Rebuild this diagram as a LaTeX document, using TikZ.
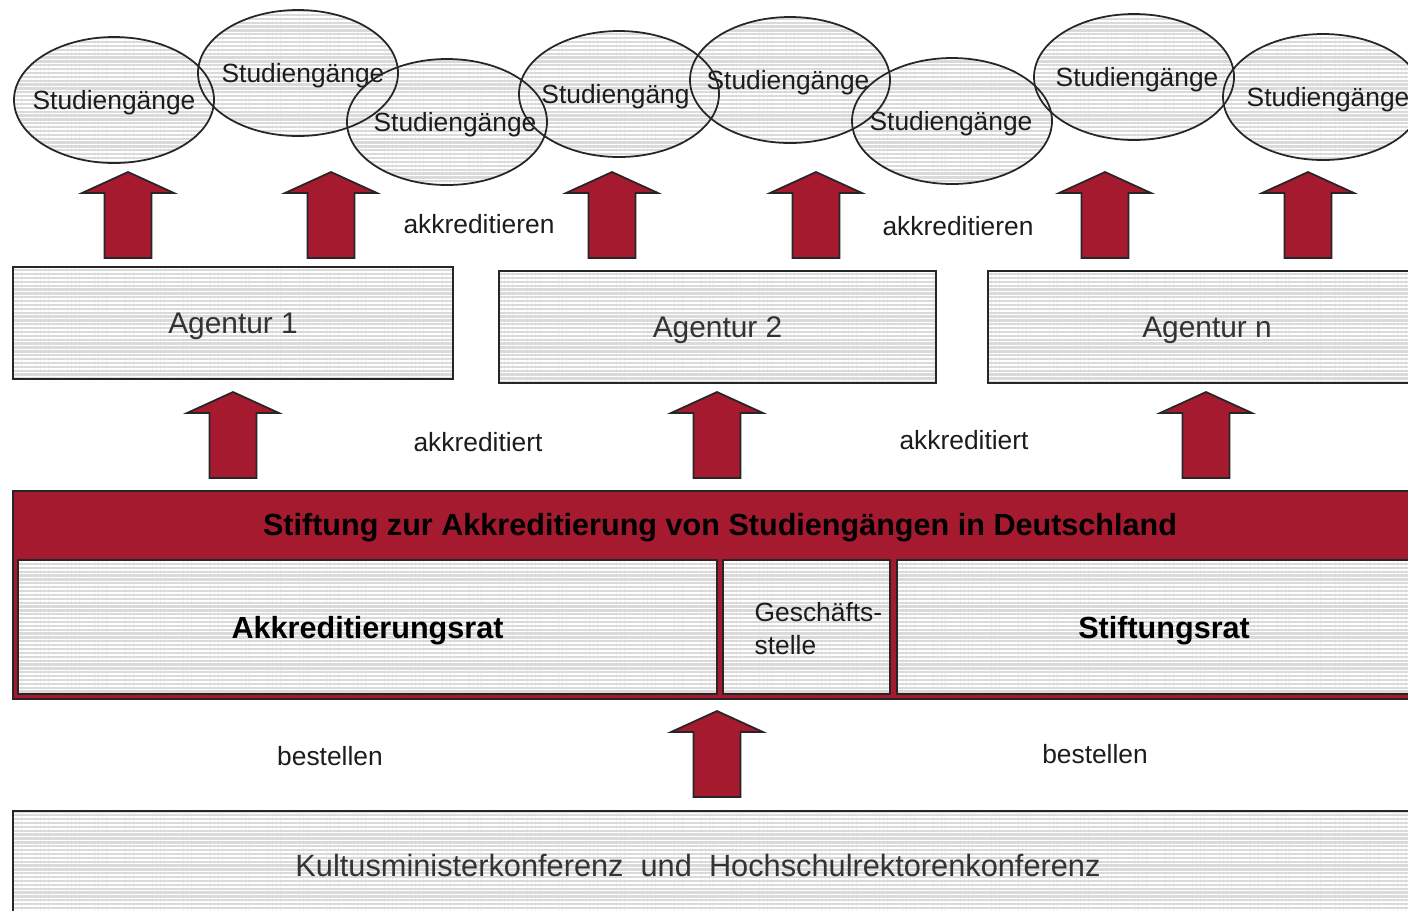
\documentclass[tikz,border=0pt]{standalone}
\usepackage{fontspec}
\setmainfont{Liberation Sans}
\usetikzlibrary{shapes.geometric,patterns.meta}
\definecolor{dred}{RGB}{166,26,48}
\definecolor{hatchbg}{RGB}{218,218,218}
\definecolor{txt}{RGB}{28,28,28}
\begin{document}
\begin{tikzpicture}[x=0.1mm,y=-0.1mm,
  hatch/.style={preaction={fill=hatchbg},
    pattern={Lines[angle=0,distance=1.1pt,line width=0.45pt]}, pattern color=white},
  studfill/.style={ellipse, hatch, minimum width=20mm, minimum height=12.6mm, inner sep=0pt},
  studline/.style={ellipse, draw=black!85, line width=0.5pt, minimum width=20mm, minimum height=12.6mm, inner sep=0pt},
  smalltxt/.style={font=\fontsize{7.5}{9.4}\selectfont, text=txt, inner sep=0pt, text depth=0pt},
  bigtxt/.style={font=\fontsize{8.5}{10}\selectfont, text=black!80, inner sep=0pt, text depth=0pt},
  boldtxt/.style={font=\fontsize{8.7}{10}\selectfont\bfseries, text=black, inner sep=0pt, text depth=0pt},
  box/.style={draw=black!85, line width=0.6pt, hatch, inner sep=0pt, anchor=north west},
  arrowstyle/.style={fill=dred, draw=black!85, line width=0.5pt, line join=miter},
  uparrow/.pic={\draw[arrowstyle] (-23.5,0) -- (-23.5,-65) -- (-46,-65) -- (0,-86)
      -- (46,-65) -- (23.5,-65) -- (23.5,0) -- cycle;}
]
\clip (0,0) rectangle (1408,910);
\fill[white] (0,0) rectangle (1408,910);

% Studiengaenge (fills, texts, outlines)
\node[studfill] (s1) at (114,100) {};
\node[studfill] (s2) at (298,73) {};
\node[studfill] (s3) at (447,122) {};
\node[studfill] (s4) at (619,94) {};
\node[studfill] (s5) at (790,80) {};
\node[studfill] (s6) at (952,121) {};
\node[studfill] (s7) at (1134,77) {};
\node[studfill] (s8) at (1323,97) {};
\node[smalltxt] (t1) at (s1) {Studiengänge};
\node[smalltxt] (t2) at ([xshift=0.5mm]s2.center) {Studiengänge};
\node[smalltxt] (t3) at ([xshift=0.8mm]s3.center) {Studiengänge};
\node[smalltxt] (t4) at ([xshift=-0.35mm]s4.center) {Studiengäng};
\node[smalltxt] (t5) at ([xshift=-0.2mm]s5.center) {Studiengänge};
\node[smalltxt] (t6) at ([xshift=-0.1mm]s6.center) {Studiengänge};
\node[smalltxt] (t7) at ([xshift=0.3mm]s7.center) {Studiengänge};
\node[smalltxt] (t8) at ([xshift=0.5mm]s8.center) {Studiengänge};
\foreach \i in {1,...,8} \node[studline] (o\i) at (s\i) {};

% arrows to Studiengaenge
\pic (a1) at (128,258) {uparrow};
\pic (a2) at (331,258) {uparrow};
\pic (a3) at (612,258) {uparrow};
\pic (a4) at (816,258) {uparrow};
\pic (a5) at (1105,258) {uparrow};
\pic (a6) at (1308,258) {uparrow};
\node[smalltxt] (l1) at (479,224) {akkreditieren};
\node[smalltxt] (l2) at (958,226) {akkreditieren};

% Agenturen
\node[box, bigtxt, minimum width=44mm, minimum height=11.2mm] (ag1) at (12,266) {Agentur 1};
\node[box, bigtxt, minimum width=43.7mm, minimum height=11.2mm] (ag2) at (498,270) {Agentur 2};
\node[box, bigtxt, minimum width=43.8mm, minimum height=11.2mm] (agn) at (987,270) {Agentur n};

% arrows to Agenturen
\pic (b1) at (233,478) {uparrow};
\pic (b2) at (717,478) {uparrow};
\pic (b3) at (1206,478) {uparrow};
\node[smalltxt] (l3) at (478,442) {akkreditiert};
\node[smalltxt] (l4) at (964,440) {akkreditiert};

% Stiftung
\node[draw=black!85, line width=0.6pt, fill=dred, anchor=north west, inner sep=0pt,
      minimum width=141.6mm, minimum height=20.8mm] (band) at (12,490) {};
\node[boldtxt] (bandt) at (720,524) {Stiftung zur Akkreditierung von Studiengängen in Deutschland};
\node[box, boldtxt, minimum width=69.9mm, minimum height=13.4mm] (ar) at (17,559) {Akkreditierungsrat};
\node[box, minimum width=16.7mm, minimum height=13.4mm] (gs) at (722,559) {};
\node[smalltxt, align=left, anchor=west] (gst) at (754,628) {Geschäfts-\\stelle};
\node[box, boldtxt, minimum width=53.4mm, minimum height=13.4mm] (sr) at (896,559) {Stiftungsrat};

% bottom
\pic (c1) at (717,797) {uparrow};
\node[smalltxt] (l5) at (330,756) {bestellen};
\node[smalltxt] (l6) at (1095,754) {bestellen};
\node[box, minimum width=141.6mm, minimum height=12mm] (kmk) at (12,810) {};
\node[bigtxt, font=\fontsize{8.75}{10}\selectfont] (kmkt) at (698,865) {Kultusministerkonferenz~~und~~Hochschulrektorenkonferenz};
\end{tikzpicture}
\end{document}
